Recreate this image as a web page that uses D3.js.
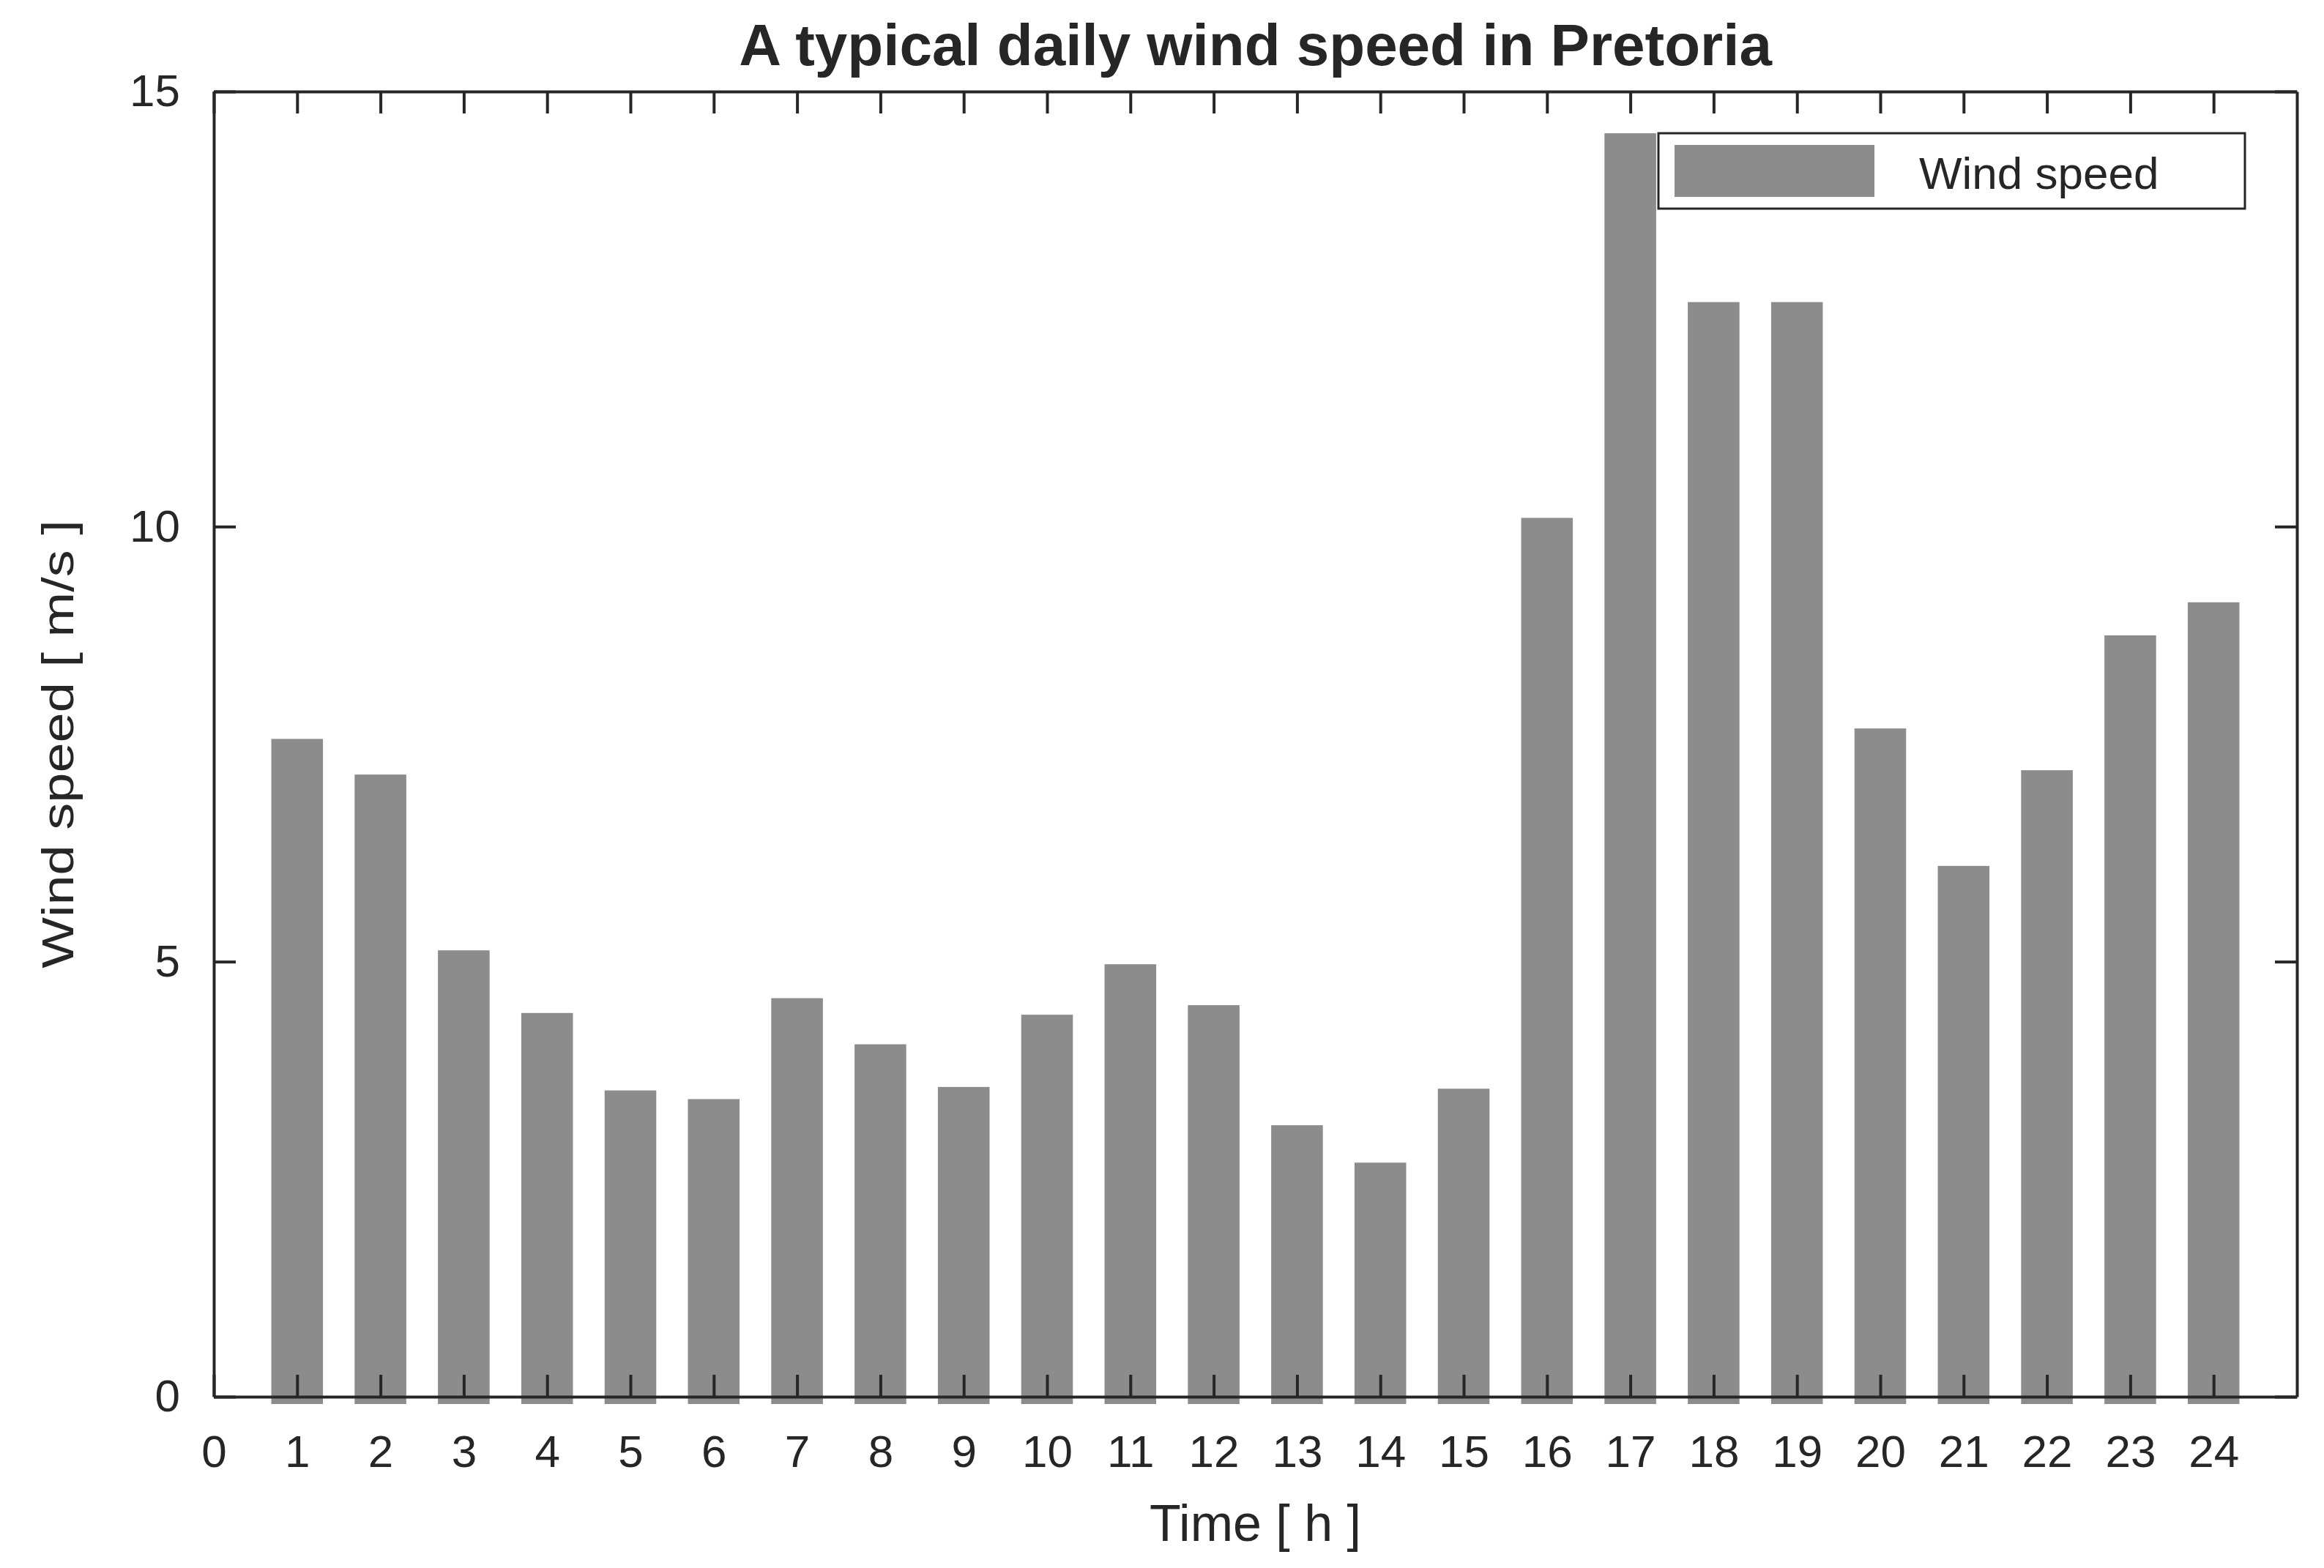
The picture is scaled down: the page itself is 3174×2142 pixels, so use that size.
<!DOCTYPE html>
<html>
<head>
<meta charset="utf-8">
<script src="https://cdn.jsdelivr.net/npm/d3@7"></script>
<style>
  body { margin: 0; background: #fff; }
  text { font-family: "Liberation Sans", Arial, sans-serif; fill: #262626; }
</style>
</head>
<body>
<svg id="chart" width="3174" height="2142"></svg>
<script>
// data
const hours = d3.range(1, 25);
const windSpeed = [7.56, 7.15, 5.13, 4.41, 3.52, 3.42, 4.58, 4.05, 3.56, 4.39, 4.97, 4.50,
                   3.12, 2.69, 3.54, 10.10, 14.52, 12.58, 12.58, 7.68, 6.10, 7.20, 8.75, 9.13];
const xTicks = d3.range(0, 25);
const yTicks = [0, 5, 10, 15];

const svg = d3.select("#chart");
const margin = { top: 125, right: 37, bottom: 234, left: 292 };
const width = 3174, height = 2142;

const x = d3.scaleLinear().domain([0, 25]).range([margin.left, width - margin.right]);
const y = d3.scaleLinear().domain([0, 15]).range([height - margin.bottom, margin.top]);
const barW = (x(1) - x(0)) * 0.62;

// bars
svg.append("g").selectAll("rect")
  .data(hours.map((h, i) => ({ h, v: windSpeed[i] })))
  .join("rect")
  .attr("x", d => x(d.h) - barW / 2)
  .attr("width", barW)
  .attr("y", d => y(d.v))
  .attr("height", d => y(0) - y(d.v) + 10)
  .attr("fill", "#8c8c8c");

// axes (MATLAB style: inward ticks, box)
const tick = 30;
const styleAxis = g => {
  g.selectAll("path.domain").attr("stroke", "#262626").attr("stroke-width", 4);
  g.selectAll(".tick line").attr("stroke", "#262626").attr("stroke-width", 4);
  g.selectAll("text").attr("font-size", 62).attr("fill", "#262626");
};

svg.append("g")
  .attr("transform", `translate(0,${y(0)})`)
  .call(d3.axisBottom(x).tickValues(xTicks).tickSize(-tick).tickSizeOuter(0).tickPadding(52))
  .call(styleAxis);
svg.append("g")
  .attr("transform", `translate(0,${y(15)})`)
  .call(d3.axisTop(x).tickValues(xTicks).tickSize(-tick).tickSizeOuter(0).tickFormat(""))
  .call(styleAxis);
svg.append("g")
  .attr("transform", `translate(${x(0)},0)`)
  .call(d3.axisLeft(y).tickValues(yTicks).tickSize(-tick).tickSizeOuter(0).tickPadding(46))
  .call(styleAxis);
svg.append("g")
  .attr("transform", `translate(${x(25)},0)`)
  .call(d3.axisRight(y).tickValues(yTicks).tickSize(-tick).tickSizeOuter(0).tickFormat(""))
  .call(styleAxis);

// title and labels
svg.append("text")
  .attr("x", (x(0) + x(25)) / 2).attr("y", 89)
  .attr("text-anchor", "middle").attr("font-size", 80).attr("font-weight", "bold")
  .attr("fill", "#000")
  .text("A typical daily wind speed in Pretoria");
svg.append("text")
  .attr("x", (x(0) + x(25)) / 2).attr("y", 2105)
  .attr("text-anchor", "middle").attr("font-size", 70)
  .text("Time [ h ]");
svg.append("text")
  .attr("transform", `translate(100,${(y(0) + y(15)) / 2}) rotate(-90) scale(1,0.82)`)
  .attr("text-anchor", "middle").attr("font-size", 74)
  .text("Wind speed [ m/s ]");

// legend
const lg = svg.append("g");
lg.append("rect").attr("x", 2265).attr("y", 182).attr("width", 801).attr("height", 103)
  .attr("fill", "#fff").attr("stroke", "#262626").attr("stroke-width", 3);
lg.append("rect").attr("x", 2287).attr("y", 198).attr("width", 273).attr("height", 71)
  .attr("fill", "#8c8c8c");
lg.append("text").attr("x", 2621).attr("y", 258).attr("font-size", 62).text("Wind speed");
</script>
</body>
</html>
